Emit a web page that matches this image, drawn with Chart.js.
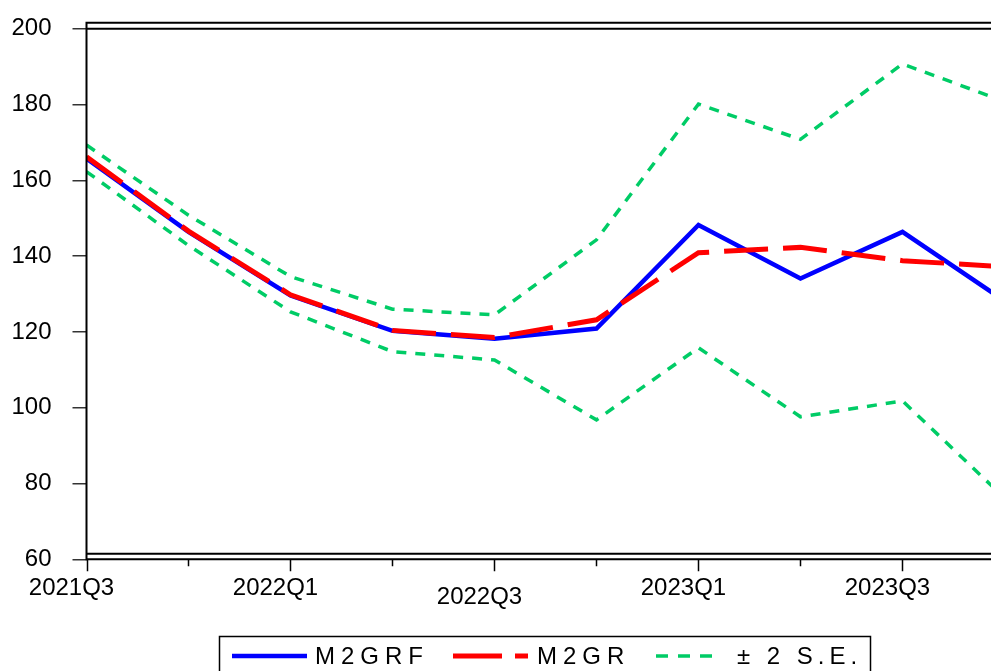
<!DOCTYPE html>
<html>
<head>
<meta charset="utf-8">
<script src="https://cdn.jsdelivr.net/npm/chart.js@4.4.0/dist/chart.umd.min.js"></script>
<style>
    html, body { margin: 0; padding: 0; background: #fff; }
    canvas { display: block; }
</style>
</head>
<body>
<canvas id="forecastChart" width="991" height="671"></canvas>
<script>
// quarters (the last one runs off the right edge of the picture)
const quarters = ['2021Q3', '2021Q4', '2022Q1', '2022Q2', '2022Q3', '2022Q4', '2023Q1', '2023Q2', '2023Q3', '2023Q4'];
const tickLabels = ['2021Q3', '2022Q1', '2022Q3', '2023Q1', '2023Q3'];
const yTicks = [60, 80, 100, 120, 140, 160, 180, 200];

// series
const m2grf = [165.7, 146.4, 129.6, 120.3, 118.2, 120.9, 148.2, 134.1, 146.4, 128.2];
const m2gr = [166.2, 146.6, 129.8, 120.4, 118.5, 123.2, 140.9, 142.3, 138.8, 137.2];
const upperSE = [169.3, 150.8, 134.6, 126.0, 124.5, 144.3, 180.1, 170.8, 190.7, 180.8];
const lowerSE = [162.3, 142.8, 125.3, 114.8, 112.6, 96.8, 115.8, 97.6, 101.8, 76.2];

const FONT = '"Liberation Sans", Arial, sans-serif';
const BLUE = '#0000FF';
const RED = '#FF0000';
const GREEN = '#00CC66';

function toPoints(values) {
    return values.map((v, i) => ({ x: i, y: v }));
}

// EViews style frame, quarter ticks/labels and the boxed legend
const evFrame = {
    id: 'evFrame',
    afterDraw(chart) {
        const ctx = chart.ctx;
        const area = chart.chartArea;
        const xs = chart.scales.x;
        ctx.save();

        // double lines top and bottom, plus the left axis
        ctx.strokeStyle = '#000';
        ctx.lineWidth = 2;
        ctx.beginPath();
        ctx.moveTo(area.left, area.top - 6); ctx.lineTo(area.right, area.top - 6);
        ctx.moveTo(area.left, area.top); ctx.lineTo(area.right, area.top);
        ctx.moveTo(area.left, area.bottom - 5.5); ctx.lineTo(area.right, area.bottom - 5.5);
        ctx.moveTo(area.left, area.bottom); ctx.lineTo(area.right, area.bottom);
        ctx.moveTo(area.left, area.top - 7); ctx.lineTo(area.left, area.bottom + 1);
        ctx.stroke();

        // quarter ticks, longer on the labelled ones
        ctx.lineWidth = 1.5;
        ctx.beginPath();
        quarters.forEach((q, i) => {
            const px = Math.round(xs.getPixelForValue(i)) + 0.5;
            if (px > area.right) return;
            const len = tickLabels.includes(q) ? 12 : 7;
            ctx.moveTo(px, area.bottom);
            ctx.lineTo(px, area.bottom + len);
        });
        ctx.stroke();

        ctx.fillStyle = '#000';
        ctx.font = '24px ' + FONT;
        ctx.textAlign = 'center';
        ctx.textBaseline = 'alphabetic';
        tickLabels.forEach(t => {
            const px = xs.getPixelForValue(quarters.indexOf(t));
            const drop = t === '2022Q3' ? 9 : 0;
            ctx.fillText(t, px - 15, area.bottom + 36 + drop);
        });

        // legend box
        ctx.lineWidth = 1.5;
        ctx.strokeRect(219.5, 636.5, 651, 60);

        const ly = 656;
        const items = [
            { ds: 0, x0: 232, x1: 307, tx: 315, spacing: 6 },
            { ds: 1, x0: 453, x1: 528, tx: 537, spacing: 6 },
            { ds: 2, x0: 656, x1: 716, tx: 737, spacing: 5 }
        ];
        items.forEach(it => {
            const ds = chart.data.datasets[it.ds];
            ctx.strokeStyle = ds.borderColor;
            ctx.lineWidth = ds.borderWidth;
            ctx.setLineDash(it.ds === 1 ? [49, 13] : (it.ds === 2 ? [12, 10] : []));
            ctx.beginPath();
            ctx.moveTo(it.x0, ly);
            ctx.lineTo(it.x1, ly);
            ctx.stroke();
            ctx.setLineDash([]);
            ctx.textAlign = 'left';
            ctx.letterSpacing = it.spacing + 'px';
            ctx.fillText(ds.label, it.tx, 663.5);
            ctx.letterSpacing = '0px';
        });

        ctx.restore();
    }
};

const ctx = document.getElementById('forecastChart');

new Chart(ctx, {
    type: 'line',
    data: {
        datasets: [{
            label: 'M2GRF',
            data: toPoints(m2grf),
            borderColor: BLUE,
            borderWidth: 4.5,
            order: 1
        }, {
            label: 'M2GR',
            data: toPoints(m2gr),
            borderColor: RED,
            borderWidth: 5,
            borderDash: [44, 15],
            order: 0
        }, {
            label: '± 2 S.E.',
            data: toPoints(upperSE),
            borderColor: GREEN,
            borderWidth: 3.5,
            borderDash: [10, 9],
            order: 2
        }, {
            label: '± 2 S.E.',
            data: toPoints(lowerSE),
            borderColor: GREEN,
            borderWidth: 3.5,
            borderDash: [10, 9],
            order: 3
        }]
    },
    options: {
        responsive: false,
        animation: false,
        devicePixelRatio: 1,
        layout: {
            padding: { top: 28.7, right: 0, left: 0, bottom: 0 }
        },
        elements: {
            line: { tension: 0, fill: false },
            point: { radius: 0, hoverRadius: 0 }
        },
        plugins: {
            legend: { display: false },
            tooltip: { enabled: false }
        },
        scales: {
            x: {
                type: 'linear',
                min: 0,
                max: 8.868,
                grid: { display: false },
                border: { display: false },
                ticks: { display: false },
                afterFit: scale => { scale.height = 111.7; }
            },
            y: {
                min: 60,
                max: 200,
                grid: {
                    drawOnChartArea: false,
                    drawTicks: true,
                    tickLength: 14,
                    color: '#333',
                    lineWidth: 1.5
                },
                border: { display: false },
                afterBuildTicks: scale => {
                    scale.ticks = yTicks.map(v => ({ value: v }));
                },
                ticks: {
                    color: '#000',
                    padding: 21,
                    font: { family: FONT, size: 24 }
                },
                afterFit: scale => {
                    scale.width = 86.5;
                    // the tick padding should not push the plot down
                    scale.paddingTop = 0;
                    scale.paddingBottom = 0;
                }
            }
        }
    },
    plugins: [evFrame]
});
</script>
</body>
</html>
